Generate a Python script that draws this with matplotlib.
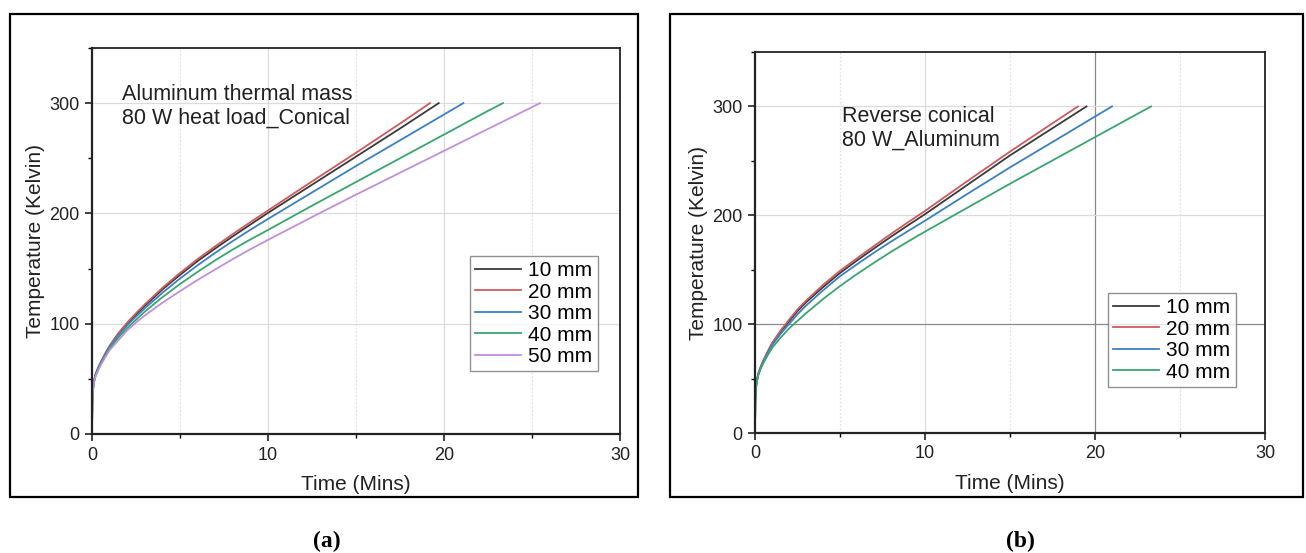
import matplotlib
matplotlib.use("Agg")
import matplotlib.pyplot as plt
from matplotlib.patches import Rectangle
from matplotlib.ticker import MultipleLocator

plt.rcParams['font.family'] = ['Liberation Sans', 'DejaVu Sans']

# ---------------- data ----------------
labels_a = ["10 mm", "20 mm", "30 mm", "40 mm", "50 mm"]
labels_b = ["10 mm", "20 mm", "30 mm", "40 mm"]

t_early = [0, 0.02, 0.05, 0.1, 0.2, 0.35, 0.5, 0.75, 1, 1.5, 2, 2.5, 3, 4, 5,
           6, 7, 8, 9, 10]

# panel (a) Conical
a_10 = [5, 31, 40, 47, 54, 60, 65, 72.5, 79.5, 90.8, 100, 108.3, 116.2, 131, 144.3,
        156.8, 168.2, 179.2, 189.9, 200.5]
a_20 = [5, 31, 40, 47, 54, 60, 65, 73, 80, 91.5, 101, 109.5, 117.5, 132.5, 146,
        158.6, 170.2, 181.3, 192.1, 202.7]
a_30 = [5, 31, 40, 46.5, 53.5, 59.5, 64.5, 72, 79, 89.5, 98.5, 106.5, 114, 128, 141,
        153, 164.3, 175, 185.2, 195]
a_40 = [5, 31, 39.5, 46, 53, 58.5, 63.5, 71, 77.5, 87.5, 96, 103.5, 111, 124, 136,
        147, 157.5, 167.3, 176.4, 185]
a_50 = [5, 30.5, 39, 45.5, 52, 57.5, 62.5, 69.5, 76, 85, 94, 101, 107.5, 119, 129.5,
        139.7, 149.2, 158.6, 167.5, 176]
a_10_tail_t, a_10_tail_T = [12.5, 15, 17.5, 19.7], [226, 251.5, 277, 300]
a_20_tail_t, a_20_tail_T = [12.5, 15, 17.5, 19.2], [229, 255, 281.5, 300]
a_30_tail_t, a_30_tail_T = [12.5, 15, 17.5, 20, 21.1], [219, 243, 266.3, 289.7, 300]
a_40_tail_t, a_40_tail_T = [12.5, 15, 17.5, 20, 22.5, 23.35], [207, 228.5, 250, 271.5, 293, 300]
a_50_tail_t, a_50_tail_T = [12.5, 15, 17.5, 20, 22.5, 25, 25.45], [196.7, 217, 236.9, 256.7, 276.6, 296.4, 300]

# panel (b) Reverse conical
b_10 = [5, 31.5, 40.5, 47.5, 54.5, 61, 66.5, 74.5, 82, 93, 102.5, 112, 120, 134, 147,
        158.5, 169.5, 180.3, 190.8, 201]
b_20 = [5, 31.5, 41, 48, 55, 61.5, 67, 75, 82.5, 94, 104, 113.5, 121.5, 136, 149,
        160.5, 171.8, 182.9, 193.6, 204]
b_30 = [5, 31, 40, 47, 54, 60.5, 66, 73.5, 80.5, 91, 100, 109, 117, 131, 144,
        155, 165.7, 175.8, 185.5, 195]
b_40 = [5, 30.5, 39.5, 46.5, 53.5, 59.5, 64.5, 71.5, 78, 87.5, 96, 103, 110, 123, 135,
        146, 156.4, 166.4, 175.9, 185]
b_10_tail_t, b_10_tail_T = [12.5, 15, 17.5, 19.5], [228, 255, 280, 300]
b_20_tail_t, b_20_tail_T = [12.5, 15, 17.5, 19.0], [231.5, 258.5, 284.5, 300]
b_30_tail_t, b_30_tail_T = [12.5, 15, 17.5, 20, 21.0], [219.7, 244, 267.3, 290.7, 300]
b_40_tail_t, b_40_tail_T = [12.5, 15, 17.5, 20, 22.5, 23.3], [207, 229, 250.4, 271.8, 293.2, 300]

colors = ["#3a3a3a", "#cf5a5c", "#3b80c6", "#3aa56f", "#c18fdc"]

# ---------------- figure ----------------
W, H = 1306, 553
fig = plt.figure(figsize=(W / 100, H / 100), dpi=100)

def fx(px):
    return px / W

def fy(py):
    return 1 - py / H

# outer frames
for (x0, x1) in [(10, 638), (670, 1303)]:
    fig.patches.append(Rectangle((fx(x0), fy(497)), fx(x1 - x0), (497 - 14) / H,
                                 transform=fig.transFigure, fill=False,
                                 edgecolor="black", linewidth=1.6))

ax1 = fig.add_axes([fx(92), fy(434), fx(620 - 92), (434 - 48) / H])
ax2 = fig.add_axes([fx(755), fy(433), fx(1265 - 755), (433 - 52) / H])

def series(early, tt, TT):
    return list(t_early) + list(tt), list(early) + list(TT)

data_a = [series(a_10, a_10_tail_t, a_10_tail_T), series(a_20, a_20_tail_t, a_20_tail_T),
          series(a_30, a_30_tail_t, a_30_tail_T), series(a_40, a_40_tail_t, a_40_tail_T),
          series(a_50, a_50_tail_t, a_50_tail_T)]
data_b = [series(b_10, b_10_tail_t, b_10_tail_T), series(b_20, b_20_tail_t, b_20_tail_T),
          series(b_30, b_30_tail_t, b_30_tail_T), series(b_40, b_40_tail_t, b_40_tail_T)]

def style(ax, dark_x=None, dark_y=None, ylabelpad=2):
    ax.set_xlim(0, 30)
    ax.set_ylim(0, 350)
    ax.xaxis.set_major_locator(MultipleLocator(10))
    ax.xaxis.set_minor_locator(MultipleLocator(5))
    ax.yaxis.set_major_locator(MultipleLocator(100))
    ax.yaxis.set_minor_locator(MultipleLocator(50))
    ax.set_yticks([0, 100, 200, 300])
    for v in [10, 20]:
        ax.axvline(v, color="#888888" if v == dark_x else "#dcdcdc", lw=0.9, zorder=0)
    for v in [5, 15, 25]:
        ax.axvline(v, color="#e2e2e2", lw=0.9, ls=(0, (1.5, 1.5)), zorder=0)
    for v in [100, 200, 300]:
        ax.axhline(v, color="#888888" if v == dark_y else "#dcdcdc", lw=0.9, zorder=0)
    ax.tick_params(which="major", direction="out", length=5, width=1.2, labelsize=13,
                   colors="#222222", pad=4)
    ax.tick_params(which="minor", direction="out", length=3, width=1.0)
    for s in ax.spines.values():
        s.set_color("#222222")
        s.set_linewidth(1.3)
    ax.spines["left"].set_linewidth(1.6)
    ax.spines["bottom"].set_linewidth(1.6)
    ax.set_xlabel("Time (Mins)", fontsize=15, labelpad=8, color="#222222")
    ax.set_ylabel("Temperature (Kelvin)", fontsize=15, labelpad=ylabelpad, color="#222222")

style(ax1, ylabelpad=3)
style(ax2, dark_x=20, dark_y=100, ylabelpad=3)

for (tt, TT), c, lab in zip(data_a, colors, labels_a):
    ax1.plot(tt, TT, color=c, lw=1.3, label=lab)
for (tt, TT), c, lab in zip(data_b, colors, labels_b):
    ax2.plot(tt, TT, color=c, lw=1.3, label=lab)

ax1.text(1.7, 317, "Aluminum thermal mass\n80 W heat load_Conical", fontsize=15.5,
         va="top", ha="left", linespacing=1.12, color="#222222")
ax2.text(5.1, 300, "Reverse conical\n80 W_Aluminum", fontsize=15.5,
         va="top", ha="left", linespacing=1.12, color="#222222")

leg_kw = dict(fontsize=15, frameon=True, fancybox=False, edgecolor="#777777",
              handlelength=2.2, handletextpad=0.35, borderpad=0.25, labelspacing=0.12,
              borderaxespad=0)
l1 = ax1.legend(loc="upper left", bbox_to_anchor=((470 - 92) / 528, (434 - 256) / 386), **leg_kw)
l2 = ax2.legend(loc="upper left", bbox_to_anchor=((1108 - 755) / 510, (433 - 293) / 381), **leg_kw)
for l in (l1, l2):
    l.get_frame().set_linewidth(1.0)

fig.text(fx(327), fy(541), "(a)", fontsize=17, fontweight="bold",
         family="Liberation Serif", ha="center", va="center")
fig.text(fx(1020), fy(541), "(b)", fontsize=17, fontweight="bold",
         family="Liberation Serif", ha="center", va="center")

fig.savefig("out.png", dpi=100)
